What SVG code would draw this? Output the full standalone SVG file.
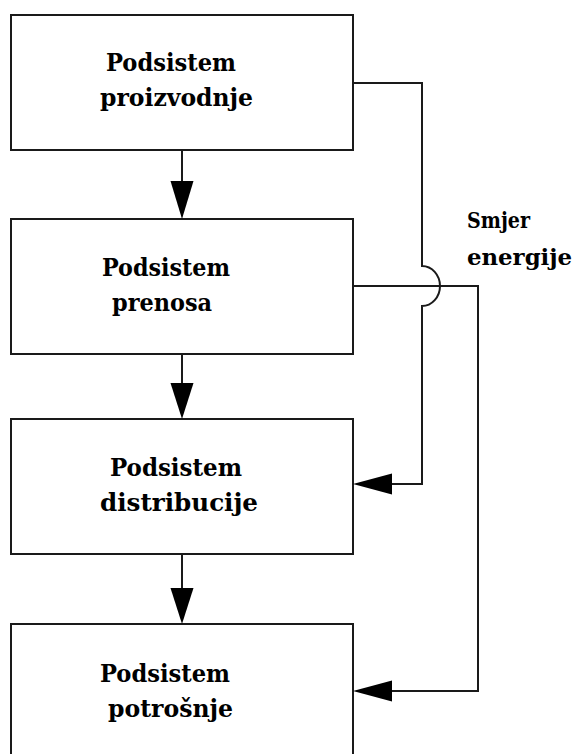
<svg xmlns="http://www.w3.org/2000/svg" width="574" height="754" viewBox="0 0 574 754">
  <style>
    .box { fill: #fff; stroke: #1a1a1a; stroke-width: 2; }
    .wire { fill: none; stroke: #1a1a1a; stroke-width: 2; }
    .head { fill: #000; stroke: none; }
    .lbl { font-family: "DejaVu Serif Condensed", "DejaVu Serif", "Liberation Serif", serif; font-weight: bold; font-size: 25px; fill: #000; }
    .note { font-family: "DejaVu Serif Condensed", "DejaVu Serif", "Liberation Serif", serif; font-weight: bold; font-size: 23px; fill: #000; }
  </style>
  <rect width="574" height="754" fill="#fff"/>

  <g id="node-proizvodnja">
    <rect class="box" x="11" y="15" width="342" height="135"/>
    <text class="lbl" x="106" y="71" textLength="130" lengthAdjust="spacingAndGlyphs">Podsistem</text>
    <text class="lbl" x="100" y="106" textLength="153" lengthAdjust="spacingAndGlyphs">proizvodnje</text>
  </g>

  <g id="node-prenos">
    <rect class="box" x="11" y="219" width="342" height="135"/>
    <text class="lbl" x="102" y="276" textLength="128" lengthAdjust="spacingAndGlyphs">Podsistem</text>
    <text class="lbl" x="112" y="311" textLength="100" lengthAdjust="spacingAndGlyphs">prenosa</text>
  </g>

  <g id="node-distribucija">
    <rect class="box" x="11" y="419" width="342" height="135"/>
    <text class="lbl" x="110" y="476" textLength="132" lengthAdjust="spacingAndGlyphs">Podsistem</text>
    <text class="lbl" x="100" y="511" textLength="158" lengthAdjust="spacingAndGlyphs">distribucije</text>
  </g>

  <g id="node-potrosnja">
    <rect class="box" x="11" y="624" width="342" height="140"/>
    <text class="lbl" x="100" y="682" textLength="130" lengthAdjust="spacingAndGlyphs">Podsistem</text>
    <text class="lbl" x="108" y="717" textLength="125" lengthAdjust="spacingAndGlyphs">potrošnje</text>
  </g>

  <g id="label-smjer">
    <text class="note" x="467" y="228" textLength="63" lengthAdjust="spacingAndGlyphs">Smjer</text>
    <text class="note" x="467" y="265" textLength="105" lengthAdjust="spacingAndGlyphs">energije</text>
  </g>

  <g id="connectors">
    <!-- chain between stacked subsystems -->
    <line class="wire" x1="182" y1="150" x2="182" y2="190"/>
    <polygon class="head" points="170.5,181 193.5,181 182,219"/>
    <line class="wire" x1="182" y1="354" x2="182" y2="390"/>
    <polygon class="head" points="170.5,383 193.5,383 182,419"/>
    <line class="wire" x1="182" y1="554" x2="182" y2="594"/>
    <polygon class="head" points="170.5,588 193.5,588 182,624"/>

    <!-- production feed, hopping over the transmission feed -->
    <path class="wire" d="M353,83 H422 V266 A18,20 0 0 1 422,306 V484 H385"/>
    <polygon class="head" points="392,473.5 392,494.5 353,484"/>

    <!-- transmission feed -->
    <path class="wire" d="M353,286 H478 V691 H385"/>
    <polygon class="head" points="392,680.5 392,701.5 353,691"/>
  </g>
</svg>
